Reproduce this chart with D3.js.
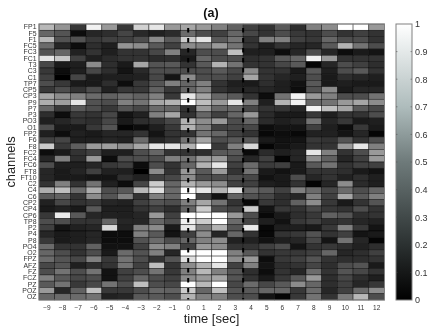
<!DOCTYPE html>
<html><head><meta charset="utf-8">
<script src="https://cdn.jsdelivr.net/npm/d3@7"></script>
<style>html,body{margin:0;padding:0;background:#fff}svg{display:block;filter:blur(.35px)}text{font-family:"Liberation Sans",Arial,sans-serif}</style>
</head><body><svg id="c" width="430" height="327"></svg>
<script>
const channels=["FP1","F5","F1","FC5","FC3","FC1","T3","C3","C1","TP7","CP5","CP3","P9","P7","P3","PO3","O1","FP2","F6","F8","FC2","FC4","FC6","FT8","FT10","C2","C4","C6","CP2","CP4","CP6","TP8","P2","P4","P8","PO4","O2","FPZ","AFZ","FZ","FCZ","PZ","POZ","OZ"];
const times=[-9,-8,-7,-6,-5,-4,-3,-2,-1,0,1,2,3,4,5,6,7,8,9,10,11,12];
const colorTicks=[0,.1,.2,.3,.4,.5,.6,.7,.8,.9,1];
const eventLines=[0,3.5];
const values=[
[.72,.58,.22,.95,.6,.22,.82,.9,.6,.65,.6,.5,.38,.25,.2,.35,.18,.5,.55,1,1,.6],
[.4,.33,.05,.15,.18,.27,.16,.13,.17,.42,.3,.25,.4,.28,.2,.3,.22,.2,.3,.2,.25,.2],
[.72,.32,.32,.22,.25,.25,.3,.55,.35,.8,.9,.35,.45,.2,.5,.5,.25,.22,.4,.3,.3,.2],
[.42,.15,.05,.18,.12,.58,.55,.35,.25,.55,.5,.6,.45,.2,.12,.2,.15,.15,.35,.7,.45,.3],
[.33,.4,.13,.2,.12,.2,.2,.28,.5,.15,.3,.3,.75,.12,.12,.05,.15,.3,.15,.05,.1,.08],
[.9,.78,.25,.12,.17,.2,.2,.17,.18,.1,.4,.3,.3,.18,.2,.35,.4,.95,.6,.2,.2,.2],
[.28,.1,.12,.55,.18,.1,.65,.33,.35,.2,.35,.7,.45,.2,.2,.28,.35,.02,.15,.3,.25,.18],
[.22,.05,.12,.28,.18,.08,.16,.3,.3,.3,.3,.35,.28,.55,.2,.2,.1,.35,.12,.3,.35,.2],
[.25,0,.27,.1,.12,.12,.13,.28,.08,.55,.3,.3,.25,.65,.2,.15,.12,.3,.1,.18,.15,.12],
[.3,.22,.1,.1,.18,.05,.22,.33,.5,.4,.5,.2,.12,.1,.18,.12,.07,.35,.1,.12,.1,.1],
[.22,.3,.2,.3,.13,.22,.22,.38,.22,.4,.5,.2,.15,.15,.15,.12,.05,.32,.55,.1,.15,.15],
[.65,.55,.5,.42,.38,.42,.38,.5,.22,.9,.65,.4,.35,.2,.05,.45,.95,.6,.5,.3,.3,.45],
[.68,.62,.9,.32,.3,.5,.45,.65,.7,1,.75,.6,.9,.5,.12,.7,.95,.4,.45,.6,.65,.55],
[.4,.22,.35,.3,.22,.33,.28,.42,.4,.2,.6,.4,.4,.28,.2,.2,.15,.95,.75,.65,.35,.28],
[.18,.05,.22,.2,.28,.08,.13,.5,.65,.2,.4,.25,.4,.6,.17,.1,.1,.22,.12,.2,.2,.3],
[.12,.15,.2,.18,.28,.1,.18,.2,.28,.7,.55,.6,.3,.4,.17,.12,.15,.45,.15,.22,.1,.12],
[.3,.1,.1,.22,.33,.02,.05,.12,.22,.7,.5,.25,.28,.28,.05,.08,.08,.25,.12,.05,.22,.1],
[.12,.05,.13,.1,.15,.15,.2,.08,.2,.2,.45,.4,.25,.2,.03,.05,.03,.13,.13,.08,.15,.02],
[.25,.27,.12,.12,.15,.13,.42,.15,.2,.45,.65,.3,.35,.35,.1,.07,.08,.22,.2,.33,.2,.3],
[.8,.22,.37,.6,.62,.55,.65,.9,.9,.7,1,.22,.5,.85,.02,.07,.1,.2,.2,.6,.9,.5],
[.05,.1,.2,.25,.12,.12,.3,.4,.2,.2,.18,.35,.35,.04,.17,.12,.15,.9,.5,.2,.3,.6],
[.15,.5,.18,.6,.05,.3,.3,.3,.5,.45,.6,.6,.3,.15,.25,.02,.15,.55,.38,.15,.25,.6],
[.3,.12,.12,.15,.22,.25,.05,.3,.2,.4,.7,.9,.25,.42,.23,.25,.1,.35,.45,.2,.25,.25],
[.15,.1,.14,.25,.13,.12,0,.55,.2,.6,.35,.6,.2,.45,.1,.07,.1,.2,.2,.18,.1,.07],
[.15,.1,.1,.08,.08,.18,.13,.25,.28,.55,.3,.3,.3,.28,.07,.1,.3,.15,.2,.13,.18,.12],
[.2,.5,.2,.45,.13,.05,.27,.8,.4,.7,.6,.55,.25,.25,.12,.1,.2,.02,.15,.55,.17,.12],
[.68,.75,.42,.68,.3,.35,.72,.88,.42,1,.9,.7,.88,.4,.35,.25,.5,.42,.28,.42,.3,.4],
[.35,.38,.2,.55,.33,.5,.2,.5,.4,1,.25,.07,.38,.32,.28,.18,.15,.5,.25,.65,.35,.5],
[.13,.28,.2,.22,.15,.13,.25,.33,.3,.5,.65,.45,.2,.03,.22,.18,.38,.55,.22,.1,.2,.33],
[.1,.13,.1,.35,.12,.12,.2,.25,.18,.4,.8,.3,.25,.8,.08,.22,.2,.28,.22,.2,.3,.2],
[.22,.92,.35,.15,.13,.12,.15,.6,.25,1,1,1,.6,.3,.03,.1,.18,.22,.38,.33,.18,.2],
[.3,.3,.2,.2,.4,.15,.15,.4,.3,.95,.8,1,.42,.27,.12,.07,.22,.25,.18,.2,.15,.13],
[.25,.08,.13,.15,.85,.13,.5,.55,.1,.9,.5,.7,.33,.92,.03,.12,.12,.1,.22,.5,.22,.08],
[.15,.1,.12,.15,.05,.05,.5,.35,.08,.25,.55,.15,.4,.2,.03,.2,.22,.32,.2,.25,.08,.1],
[.22,.1,.12,.15,.05,.05,.32,.42,.3,.4,.5,.55,.13,.13,.07,.12,.15,.28,.08,.45,.15,.02],
[.42,.2,.2,.38,.07,.07,.25,.55,.5,.25,.6,.55,.2,.2,.25,.3,.08,.2,.22,.18,.13,.18],
[.4,.3,.2,.3,.1,.42,.32,.5,.15,1,1,1,.5,.35,.2,.22,.22,.25,.4,.15,.18,.25],
[.42,.33,.28,.5,.22,.45,.3,.2,.33,.88,1,1,.55,.6,.05,.22,.25,.33,.2,.18,.18,.2],
[.28,.33,.12,.18,.2,.45,.25,.75,.2,.55,.7,.9,.25,.5,.08,.18,.2,.27,.18,.3,.33,.1],
[.3,.45,.3,.45,.07,.25,.3,.45,.22,.5,.72,.5,.33,.18,.05,.2,.15,.42,.2,.33,.28,.2],
[.5,.35,.28,.3,.07,.25,.4,.3,.25,.55,.6,.65,.33,.2,.1,.22,.35,.6,.18,.28,.18,.12],
[.35,.45,.22,.28,.45,.3,.75,.3,.28,1,.72,1,.28,.42,.28,.35,.55,.4,.18,.25,.15,.22],
[.6,.15,.38,.75,.22,.22,.3,.4,.38,.8,.4,.75,.33,.35,.4,.4,.22,.42,.15,.25,.42,.55],
[.4,.42,.42,.45,.13,.15,.35,.35,.3,.7,.5,.5,.3,.3,.08,.02,.22,.45,.2,.48,.72,.3]
];
const svg=d3.select("#c");
const L=39,R=384.5,T=24,B=300;
const x=d3.scaleBand().domain(times).range([L,R]);
const xl=d3.scaleLinear().domain([-9.5,12.5]).range([L,R]);
const y=d3.scaleBand().domain(channels).range([T,B]);
const col=d3.scaleLinear().domain([0,.3,.5,.7,1]).range(["#000","#414949","#6e7a7a","#aebcbc","#fff"]);
const cellCol=d3.scaleLinear().domain([0,1]).range(["#000","#fff"]);
svg.append("g").selectAll("g").data(values).join("g").each(function(r,i){
 d3.select(this).selectAll("rect").data(r).join("rect")
  .attr("x",(d,j)=>x(times[j])).attr("y",y(channels[i]))
  .attr("width",x.bandwidth()).attr("height",y.bandwidth())
  .attr("fill",d=>cellCol(d)).attr("stroke","#000").attr("stroke-opacity",.7).attr("stroke-width",.6);
});
eventLines.forEach(v=>svg.append("line").attr("x1",xl(v)).attr("x2",xl(v)).attr("y1",T).attr("y2",B)
 .attr("stroke","#000").attr("stroke-width",2).attr("stroke-dasharray","4.5 5.5").attr("stroke-dashoffset",6));
svg.append("rect").attr("x",L).attr("y",T).attr("width",R-L).attr("height",B-T).attr("fill","none").attr("stroke","#808080").attr("stroke-width",1);
const gx=svg.append("g").attr("transform",`translate(0,${B})`).call(d3.axisBottom(x).tickSize(0).tickPadding(5).tickFormat(d=>d<0?"\u2212"+(-d):d));
gx.select(".domain").remove();
gx.selectAll("text").attr("font-size",6.5).attr("fill","#333").style("font-family",'"Liberation Sans"');
const gy=svg.append("g").attr("transform",`translate(${L},0)`).call(d3.axisLeft(y).tickSize(0).tickPadding(2.5));
gy.select(".domain").remove();
gy.selectAll("text").attr("font-size",6.9).attr("fill","#333").style("font-family",'"Liberation Sans"');
svg.append("text").attr("x",211).attr("y",17).attr("text-anchor","middle").attr("font-size",12.5).attr("font-weight","bold").attr("fill","#111").text("(a)");
svg.append("text").attr("x",211.5).attr("y",323).attr("text-anchor","middle").attr("font-size",13).attr("fill","#222").text("time [sec]");
svg.append("text").attr("transform","translate(15,162) rotate(-90)").attr("text-anchor","middle").attr("font-size",12.8).attr("fill","#222").text("channels");
// colorbar
const CL=396,CR=412;
const cy=d3.scaleLinear().domain([0,1]).range([B,T]);
const defs=svg.append("defs");
const lg=defs.append("linearGradient").attr("id","bone").attr("x1",0).attr("x2",0).attr("y1",1).attr("y2",0);
d3.range(0,1.001,.1).forEach(t=>lg.append("stop").attr("offset",t).attr("stop-color",col(t)));
svg.append("rect").attr("x",CL).attr("y",T).attr("width",CR-CL).attr("height",B-T).attr("fill","url(#bone)").attr("stroke","#808080").attr("stroke-width",1);
const gc=svg.append("g").attr("transform",`translate(${CR},0)`).call(d3.axisRight(cy).tickValues(colorTicks).tickSize(0).tickPadding(3).tickFormat(d=>d));
gc.select(".domain").remove();
gc.selectAll("text").attr("font-size",9).attr("fill","#333").style("font-family",'"Liberation Sans"');
colorTicks.slice(1,-1).forEach(t=>{
 [[CL,CL+1.5],[CR-1.5,CR]].forEach(p=>svg.append("line").attr("x1",p[0]).attr("x2",p[1]).attr("y1",cy(t)).attr("y2",cy(t)).attr("stroke","#555").attr("stroke-width",.6));
});
</script></body></html>
